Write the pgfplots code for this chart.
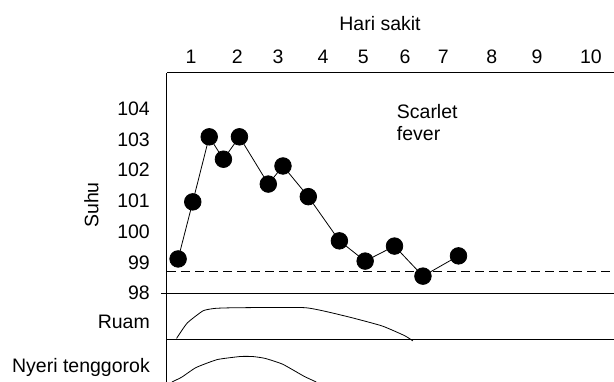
\documentclass[border=0pt]{standalone}
\usepackage{fontspec}
\setmainfont{Liberation Sans}
\usepackage{pgfplots}
\pgfplotsset{compat=1.18}
\begin{document}
\begin{tikzpicture}[font=\fontsize{19.5}{23}\selectfont]
\path[use as bounding box] (0,0) rectangle (614pt,382pt);
\begin{axis}[
  at={(167pt,0pt)}, anchor=south west,
  scale only axis, width=447pt, height=309pt,
  xmin=0.44, xmax=10.5, ymin=95.1, ymax=105.17,
  enlargelimits=false, clip=false,
  axis x line=top, axis y line=left,
  axis line style={-, line width=1pt, black},
  major tick length=0pt,
  xtick={0.98,2.02,2.94,3.95,4.86,5.80,6.66,7.75,8.77,9.98},
  xticklabels={1,2,3,4,5,6,7,8,9,10},
  ytick={98,99,100,101,102,103,104},
  yticklabels={98,99,100,101,102,103,104},
  xticklabel style={anchor=base, inner sep=0pt, yshift=9pt},
  yticklabel style={anchor=east, inner sep=0pt, xshift=-17pt},
  /pgf/number format/assume math mode=true,
]
% reference lines
\draw[line width=1pt] (axis cs:0.30,98) -- (axis cs:10.5,98);
\draw[line width=1pt] (axis cs:0.44,96.5) -- (axis cs:10.5,96.5);
\draw[line width=1pt, dash pattern=on 9pt off 5pt] (axis cs:0.44,98.7) -- (axis cs:10.5,98.7);
% temperature
\addplot[black, line width=0.8pt, mark=*, mark size=8.3pt, mark options={fill=black}] coordinates {
(0.69,99.11) (1.02,100.97) (1.39,103.09) (1.71,102.36) (2.07,103.09)
(2.72,101.55) (3.05,102.14) (3.62,101.14) (4.32,99.70) (4.90,99.04)
(5.56,99.53) (6.20,98.55) (7.00,99.21)
};
% Ruam
\addplot[black, line width=0.8pt, smooth, tension=0.3] coordinates {
(0.655,96.52) (0.894,97.02) (1.252,97.42) (1.532,97.50) (2.009,97.52)
(3.561,97.52) (4.475,97.24) (5.273,96.93) (5.788,96.61) (5.973,96.44)
};
% Nyeri tenggorok
\addplot[black, line width=0.8pt, smooth, tension=0.3] coordinates {
(0.55,95.10) (0.775,95.26) (1.092,95.57) (1.570,95.83) (2.088,95.93)
(2.367,95.93) (2.646,95.87) (3.043,95.68) (3.520,95.29) (3.80,95.10)
};
\end{axis}
\node[anchor=base] at (380pt,351pt) {Hari sakit};
\node[rotate=90, anchor=center] at (91.5pt,177pt) {Suhu};
\node[anchor=base west, inner sep=0pt] at (396.7pt,263pt) {Scarlet};
\node[anchor=base west, inner sep=0pt] at (396.7pt,241pt) {fever};
\node[anchor=base east, inner sep=0pt] at (150pt,53pt) {Ruam};
\node[anchor=base east, inner sep=0pt] at (150pt,9pt) {Nyeri tenggorok};
\end{tikzpicture}
\end{document}
